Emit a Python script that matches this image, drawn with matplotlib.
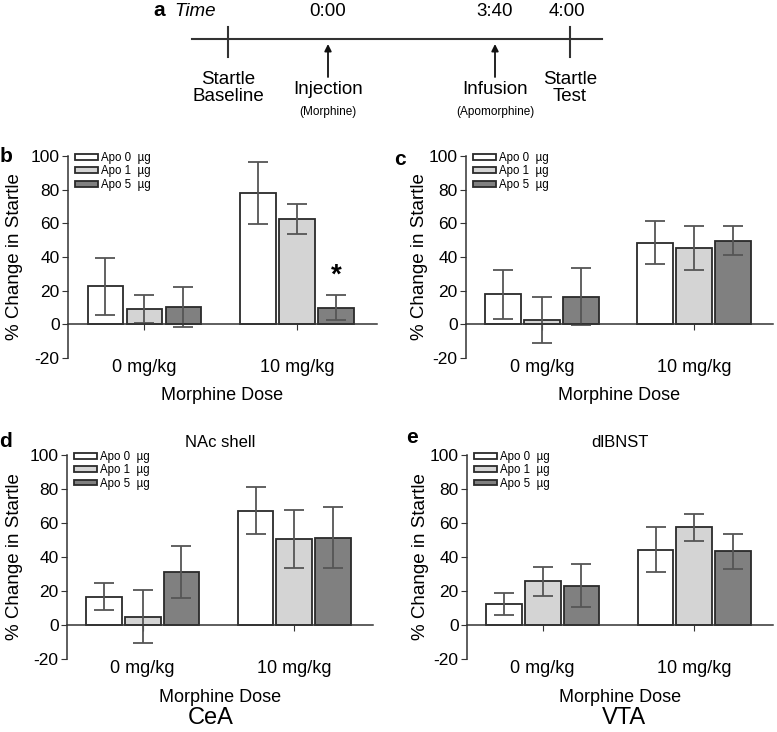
import matplotlib
matplotlib.use("Agg")
import matplotlib.pyplot as plt
import numpy as np

plt.rcParams['font.family'] = ['Liberation Sans', 'DejaVu Sans']
plt.rcParams['axes.unicode_minus'] = False

# Data -- rows: Apo 0 / 1 / 5 ug, cols: morphine 0 / 10 mg/kg
doses = ["0 mg/kg", "10 mg/kg"]
apo_labels = ["Apo 0  µg", "Apo 1  µg", "Apo 5  µg"]
bar_colors = ["#ffffff", "#d4d4d4", "#808080"]

b_mean = [[22.5, 78.0], [9.0, 62.6], [10.3, 9.9]]
b_sem = [[17.0, 18.2], [8.5, 8.7], [11.8, 7.4]]
c_mean = [[17.9, 48.5], [2.6, 45.4], [16.5, 49.7]]
c_sem = [[14.5, 12.7], [13.8, 13.3], [17.1, 8.6]]
d_mean = [[16.7, 67.3], [4.9, 50.6], [31.0, 51.4]]
d_sem = [[7.8, 13.8], [15.7, 17.2], [15.2, 18.0]]
e_mean = [[12.5, 44.3], [25.8, 57.4], [23.2, 43.4]]
e_sem = [[6.4, 13.3], [8.5, 7.7], [12.8, 10.3]]

# timeline (panel a)
time_marks = ["0:00", "3:40", "4:00"]
events = ["Startle\nBaseline", "Injection", "Infusion", "Startle\nTest"]
event_notes = ["", "(Morphine)", "(Apomorphine)", ""]
event_kind = ["tick", "arrow", "arrow", "tick"]

fig = plt.figure(figsize=(7.77, 7.32), dpi=100)

# ---- panel a: schematic timeline, drawn in a pixel-like frame
ta = fig.add_axes([0, 1 - 130 / 732, 1, 130 / 732])
ta.set_xlim(0, 777)
ta.set_ylim(130, 0)
ta.axis('off')
ev_x = [228, 328, 495, 570]
mark_x = [328, 495, 567]
line_col = '#333333'
ta.plot([192, 602], [39, 39], color=line_col, lw=1.5)
ta.text(153, 11, "a", fontsize=15, fontweight='bold', va='center', ha='left')
ta.text(174, 11, "Time", fontsize=13.5, style='italic', va='center', ha='left')
for xm, lab in zip(mark_x, time_marks):
    ta.text(xm, 11, lab, fontsize=13.5, ha='center', va='center')
for xe, lab, note, kind in zip(ev_x, events, event_notes, event_kind):
    if kind == "tick":
        ta.plot([xe, xe], [27, 57], color=line_col, lw=1.5)
        ta.text(xe, 88, lab, fontsize=13.5, ha='center', va='center', linespacing=1.0)
    else:
        ta.annotate("", xy=(xe, 44), xytext=(xe, 77),
                    arrowprops=dict(arrowstyle='-|>', color='#111111', lw=1.3,
                                    mutation_scale=10, shrinkA=0, shrinkB=0))
        ta.text(xe, 90, lab, fontsize=13.5, ha='center', va='center')
        ta.text(xe, 112, note, fontsize=8.5, ha='center', va='center')


def draw_panel(rect, means, sems, letter, letter_xy, ylab_x, title=None, star=False):
    ax = fig.add_axes(rect)
    x = np.arange(len(doses))
    for i in range(3):
        ax.bar(x + (i - 1) * 0.255, means[i], 0.235, yerr=sems[i],
               color=bar_colors[i], edgecolor='#2a2a2a', linewidth=1.3,
               label=apo_labels[i],
               error_kw=dict(ecolor='#555555', elinewidth=1.3, capsize=7, capthick=1.3))
    ax.set_xlim(-0.5, 1.52)
    ax.set_ylim(-20, 100)
    ax.set_yticks([-20, 0, 20, 40, 60, 80, 100])
    ax.set_xticks(x)
    ax.set_xticklabels(doses)
    for s in ['top', 'right']:
        ax.spines[s].set_visible(False)
    ax.spines['bottom'].set_position(('data', 0))
    for s in ['bottom', 'left']:
        ax.spines[s].set_color('#333333')
        ax.spines[s].set_linewidth(1.1)
    ax.tick_params(axis='y', labelsize=12.5, length=4, pad=2, color='#333333')
    ax.tick_params(axis='x', labelsize=13, length=4, pad=21, color='#333333')
    ax.set_xlabel("Morphine Dose", fontsize=13)
    ax.xaxis.set_label_coords(0.5, -0.145)
    ax.set_ylabel("% Change in Startle", fontsize=13.5)
    ax.yaxis.set_label_coords(ylab_x, 0.5)
    ax.legend(loc='upper left', bbox_to_anchor=(0.022, 1.02), frameon=False,
              fontsize=8.3, handlelength=2.0, handleheight=0.4, handletextpad=0.3,
              labelspacing=0.12, borderpad=0, borderaxespad=0)
    ax.text(letter_xy[0], letter_xy[1], letter, transform=ax.transAxes, fontsize=15,
            fontweight='bold', ha='center', va='center')
    if title:
        ax.set_title(title, fontsize=12, pad=6)
    if star:
        ax.annotate("*", xy=(1 + 0.255, means[2][1] + sems[2][1]), xytext=(0, 5),
                    textcoords='offset points', ha='center', va='bottom',
                    fontsize=20, fontweight='bold')
    return ax


ab = draw_panel([68 / 777, 1 - 358 / 732, 309 / 777, 202 / 732], b_mean, b_sem,
                "b", (-0.2, 1.0), -0.145, star=True)
ac = draw_panel([466 / 777, 1 - 358 / 732, 307 / 777, 202 / 732], c_mean, c_sem,
                "c", (-0.215, 0.985), -0.125)
ad = draw_panel([67 / 777, 1 - 659 / 732, 306 / 777, 204 / 732], d_mean, d_sem,
                "d", (-0.2, 1.064), -0.145, title="NAc shell")
ae = draw_panel([467 / 777, 1 - 659 / 732, 306 / 777, 204 / 732], e_mean, e_sem,
                "e", (-0.18, 1.085), -0.125, title="dlBNST")

fig.text(211 / 777, 1 - 718 / 732, "CeA", fontsize=17, ha='center', va='center')
fig.text(624 / 777, 1 - 718 / 732, "VTA", fontsize=17, ha='center', va='center')

fig.savefig("out.png", dpi=100)
